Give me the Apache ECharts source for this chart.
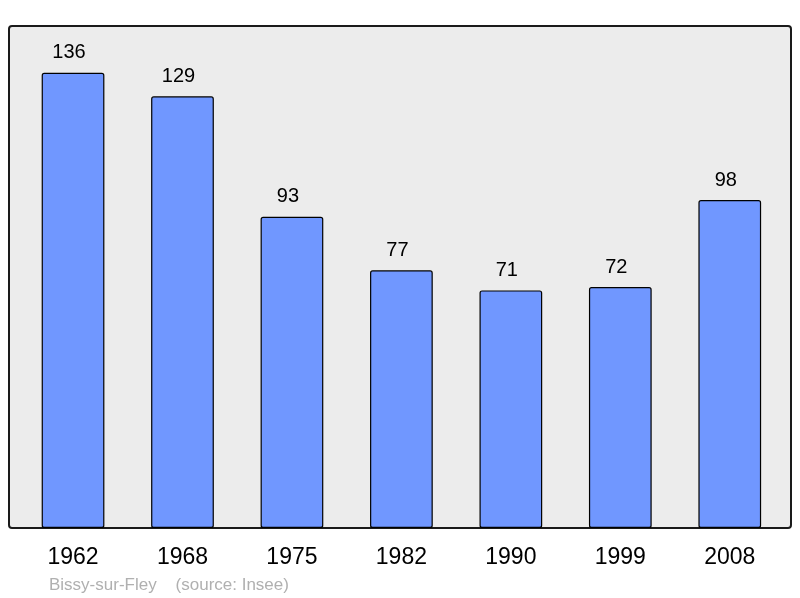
<!DOCTYPE html>
<html>
<head>
<meta charset="utf-8">
<script src="https://cdn.jsdelivr.net/npm/echarts@6/dist/echarts.min.js"></script>
<style>html,body{margin:0;padding:0;background:#fff;}#c{width:800px;height:598px;}</style>
</head>
<body>
<div id="c"></div>
<script>
const years = ['1962', '1968', '1975', '1982', '1990', '1999', '2008'];
const population = [136, 129, 93, 77, 71, 72, 98];
const sourceText = 'Bissy-sur-Fley    (source: Insee)';

const chart = echarts.init(document.getElementById('c'), null, {renderer: 'canvas'});
chart.setOption({
  animation: false,
  backgroundColor: '#ffffff',
  graphic: [
    {type: 'rect', z: -1, shape: {x: 9, y: 26, width: 782, height: 502, r: 3},
     style: {fill: '#ececec', stroke: '#1a1a1a', lineWidth: 2}},
    {type: 'text', left: 49, top: 577,
     style: {text: sourceText, fill: '#b0b0b0', fontSize: 17, fontFamily: 'Liberation Sans'}}
  ],
  grid: {left: 18.3, right: 15.5, top: 26, bottom: 70, containLabel: false},
  xAxis: {
    type: 'category', data: years,
    axisLine: {show: false}, axisTick: {show: false},
    axisLabel: {fontSize: 23, color: '#000', fontFamily: 'Liberation Sans', margin: 18}
  },
  yAxis: {type: 'value', min: 0, max: 150, show: false, splitLine: {show: false}},
  series: [{
    type: 'bar', data: population, barWidth: '57.3%',
    itemStyle: {color: '#7097ff', borderColor: '#000', borderWidth: 1.2, borderRadius: 2},
    label: {show: true, position: 'top', distance: 10, offset: [-4, 0], fontSize: 20, color: '#000', fontFamily: 'Liberation Sans'}
  }]
});
</script>
</body>
</html>
